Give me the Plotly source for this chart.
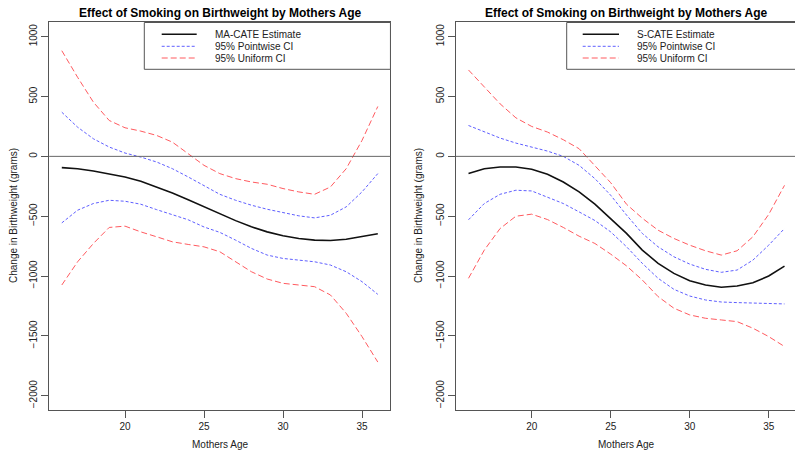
import plotly.graph_objects as go

# ---------------- data ----------------
ages = list(range(16, 37))

ma_est = [-94, -103, -122, -144, -172, -208, -256, -306, -362, -420, -480, -537, -589, -631, -664, -686, -700, -703, -692, -672, -647]
ma_pw_upper = [369, 244, 147, 78, 28, -6, -47, -103, -172, -242, -317, -367, -408, -442, -472, -497, -514, -492, -422, -297, -144]
ma_pw_lower = [-556, -450, -394, -367, -375, -400, -445, -490, -530, -590, -635, -700, -769, -825, -853, -867, -881, -908, -964, -1047, -1153]
ma_un_upper = [883, 661, 453, 300, 239, 211, 175, 119, 22, -75, -144, -186, -214, -233, -269, -297, -317, -256, -103, 133, 417]
ma_un_lower = [-1075, -881, -728, -594, -583, -631, -672, -714, -736, -756, -797, -881, -964, -1025, -1061, -1075, -1089, -1158, -1311, -1506, -1719]

s_est = [-144, -103, -89, -89, -108, -150, -214, -297, -400, -519, -644, -783, -894, -978, -1039, -1075, -1094, -1083, -1056, -1000, -917]
s_pw_upper = [258, 203, 153, 111, 78, 44, 0, -75, -186, -325, -490, -644, -756, -839, -900, -944, -969, -950, -867, -742, -603]
s_pw_lower = [-530, -394, -317, -283, -289, -339, -394, -464, -536, -631, -755, -894, -1019, -1111, -1167, -1200, -1217, -1222, -1225, -1225, -1233]
s_un_upper = [722, 578, 439, 322, 250, 203, 139, 64, -75, -220, -400, -517, -617, -686, -742, -789, -825, -789, -672, -485, -242]
s_un_lower = [-1019, -783, -603, -500, -483, -528, -594, -667, -728, -817, -915, -1033, -1172, -1269, -1325, -1353, -1367, -1381, -1436, -1506, -1589]

x_ticks = [20, 25, 30, 35]
y_ticks = [-2000, -1500, -1000, -500, 0, 500, 1000]

title_text = "Effect of Smoking on Birthweight by Mothers Age"
x_title = "Mothers Age"
y_title = "Change in Birthweight (grams)"
legend_left = ["MA-CATE Estimate", "95% Pointwise CI", "95% Uniform CI"]
legend_right = ["S-CATE Estimate", "95% Pointwise CI", "95% Uniform CI"]

# ---------------- styles ----------------
W, H = 795, 451
FONT = "Liberation Sans, Arial, Helvetica, sans-serif"
BLACK = "#111111"
BLUE = "rgb(95,95,255)"
RED = "rgb(255,90,95)"
AXC = "#555555"
TXT = "#222222"

def px(x):
    return x / W

def py(y):
    return 1 - y / H

fig = go.Figure()

def add_panel(xa, ya, est, pwu, pwl, unu, unl):
    for ys, col, dash, w in [
        (unu, RED, "6px,3px", 1),
        (unl, RED, "6px,3px", 1),
        (pwu, BLUE, "3px,2px", 1),
        (pwl, BLUE, "3px,2px", 1),
        (est, BLACK, "solid", 1.6),
    ]:
        fig.add_trace(go.Scatter(x=ages, y=ys, mode="lines", xaxis=xa, yaxis=ya,
                                 line=dict(color=col, dash=dash, width=w),
                                 showlegend=False, hoverinfo="skip"))

add_panel("x", "y", ma_est, ma_pw_upper, ma_pw_lower, ma_un_upper, ma_un_lower)
add_panel("x2", "y2", s_est, s_pw_upper, s_pw_lower, s_un_upper, s_un_lower)

ydom = [py(410.06), py(22.34)]
axis_common = dict(showgrid=False, zeroline=False, showline=True, linecolor=AXC, linewidth=1,
                   ticks="outside", ticklen=7, tickcolor=AXC, tickwidth=1,
                   tickfont=dict(family=FONT, size=10, color=TXT), automargin=False)

fig.update_layout(
    width=W, height=H,
    margin=dict(l=0, r=0, t=0, b=0),
    paper_bgcolor="white", plot_bgcolor="white",
    showlegend=False,
    xaxis=dict(domain=[px(49.16), px(390.44)], range=[15.2, 36.8], tickvals=x_ticks,
               mirror=True, anchor="y", **axis_common),
    yaxis=dict(domain=ydom, range=[-2120, 1120], tickvals=y_ticks, tickangle=-90,
               mirror=True, anchor="x", **axis_common),
    xaxis2=dict(domain=[px(455.86), 1.0], range=[15.2, 15.2 + (W - 455.86) / 15.8], tickvals=x_ticks,
                mirror=True, anchor="y2", **axis_common),
    yaxis2=dict(domain=ydom, range=[-2120, 1120], tickvals=y_ticks, tickangle=-90,
                mirror=False, anchor="x2", **axis_common),
)

shapes = []
annotations = []

# zero reference lines
for xr, yr in [("x domain", "y"), ("x2 domain", "y2")]:
    shapes.append(dict(type="line", xref=xr, yref=yr, x0=0, x1=1, y0=0, y1=0,
                       line=dict(color="#666666", width=1)))

# legends (manual, as in R)
def add_legend(box_x0, box_x1, line_x0, line_x1, text_x, labels):
    shapes.append(dict(type="rect", xref="paper", yref="paper",
                       x0=px(box_x0), x1=px(box_x1), y0=py(69.3), y1=py(22.5),
                       line=dict(color=AXC, width=1), fillcolor="white", layer="above"))
    rows = [34.3, 46.3, 58.0]
    styles = [(BLACK, "solid", 1.6), (BLUE, "3px,2px", 1), (RED, "6px,3px", 1)]
    for r, (c, d, w), lab in zip(rows, styles, labels):
        shapes.append(dict(type="line", xref="paper", yref="paper",
                           x0=px(line_x0), x1=px(line_x1), y0=py(r), y1=py(r),
                           line=dict(color=c, dash=d, width=w), layer="above"))
        annotations.append(dict(xref="paper", yref="paper", x=px(text_x), y=py(r),
                                xanchor="left", yanchor="middle", showarrow=False,
                                text=lab, font=dict(family=FONT, size=10, color=TXT)))

add_legend(144.3, 390.44, 161.7, 196.7, 213.0, legend_left)
add_legend(566.7, 800.0, 582.7, 619.0, 635.0, legend_right)

# titles and axis labels
for cx, ylab_x in [(220.0, 13.0), (626.0, 418.0)]:
    annotations.append(dict(xref="paper", yref="paper", x=px(cx), y=py(13.0),
                            xanchor="center", yanchor="middle", showarrow=False,
                            text="<b>" + title_text + "</b>",
                            font=dict(family=FONT, size=12, color="#000000")))
    annotations.append(dict(xref="paper", yref="paper", x=px(cx), y=py(444.0),
                            xanchor="center", yanchor="middle", showarrow=False,
                            text=x_title, font=dict(family=FONT, size=10, color=TXT)))
    annotations.append(dict(xref="paper", yref="paper", x=px(ylab_x), y=py(216.0),
                            xanchor="center", yanchor="middle", showarrow=False, textangle=-90,
                            text=y_title, font=dict(family=FONT, size=10, color=TXT)))

fig.update_layout(shapes=shapes, annotations=annotations)

# remove the default 8px page margin so the figure fills the 795x451 window
fig.write_html("out.html",
               config={"displayModeBar": False},
               post_script="document.body.style.margin='0';document.body.style.overflow='hidden';")
